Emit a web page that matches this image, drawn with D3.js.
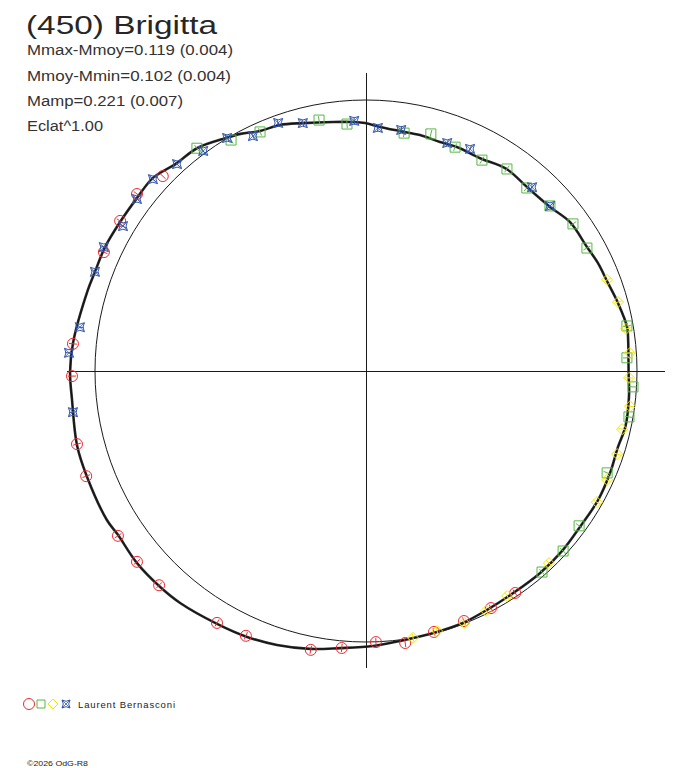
<!DOCTYPE html>
<html><head><meta charset="utf-8">
<script src="https://cdn.jsdelivr.net/npm/d3@7"></script>
<style>html,body{margin:0;padding:0;background:#fff;}</style>
</head><body>
<svg id="chart" width="688" height="768"></svg>
<script>
// ---- data (phase angle in degrees, relative flux; 1 = mean) ----
const title = "(450) Brigitta";
const infoLines = ["Mmax-Mmoy=0.119 (0.004)", "Mmoy-Mmin=0.102 (0.004)", "Mamp=0.221 (0.007)", "Eclat^1.00"];
const observer = "Laurent Bernasconi";
const copyright = "\u00A92026 OdG-R8";

const curvePhase = [6.7,9.6,15.1,20.0,25.0,29.3,36.1,41.7,48.8,55.2,61.8,67.9,72.1,77.1,81.9,86.7,90.2,93.0,97.5,104.3,109.3,113.8,117.9,121.0,127.2,132.3,137.8,142.9,148.8,154.6,159.9,163.8,174.5,180.2,185.6,194.4,200.8,209.9,213.5,220.0,226.4,231.3,239.5,245.9,252.0,258.6,264.6,271.5,277.2,285.2,291.0,296.9,303.5,310.7,317.7,323.9,330.9,337.3,343.2,347.9,354.4,359.8];
const curveFlux  = [0.974,0.977,0.963,0.950,0.944,0.935,0.932,0.910,0.902,0.908,0.891,0.892,0.888,0.893,0.894,0.902,0.915,0.920,0.927,0.944,0.962,0.968,0.990,1.003,1.032,1.037,1.061,1.059,1.061,1.066,1.065,1.069,1.086,1.092,1.090,1.101,1.101,1.103,1.097,1.103,1.101,1.097,1.083,1.075,1.063,1.046,1.027,1.015,1.004,0.998,0.996,0.988,0.983,0.984,0.982,0.977,0.980,0.976,0.971,0.979,0.975,0.969];

const redPhase = [136.2,142.3,148.6,155.6,174.7,181.0,194.2,200.6,213.6,219.8,226.0,239.4,245.6,258.8,265.0,272.1,278.2,284.6,291.4,297.8,303.9];
const redFlux  = [1.039,1.068,1.063,1.062,1.086,1.085,1.100,1.103,1.099,1.100,1.099,1.080,1.073,1.049,1.026,1.001,1.014,0.995,0.991,0.989,0.987];

const greenPhase = [127.2,120.3,113.9,100.6,94.4,80.9,74.7,68.3,61.2,55.1,48.7,41.9,35.4,29.1,9.8,2.9,356.6,350.1,337.1,324.0,317.6,311.2];
const greenFlux  = [1.032,0.987,0.965,0.942,0.914,0.889,0.907,0.889,0.888,0.909,0.899,0.912,0.937,0.933,0.977,0.964,0.987,0.985,0.966,0.972,0.985,0.986];

const yellowPhase = [20.7,15.3,9.2,3.9,358.5,352.4,347.2,341.7,335.7,330.4,313.6,302.1,296.6,291.3,285.3,280.0];
const yellowFlux  = [0.951,0.964,0.972,0.976,0.971,0.983,0.969,0.976,0.976,0.980,0.979,0.980,0.990,0.998,0.995,1.000];

const bluePhase = [120.8,126.5,132.4,138.0,143.1,149.2,154.7,159.9,171.3,176.5,188.0,115.7,109.5,104.3,92.7,87.2,81.7,70.4,64.9,47.9,41.9];
const blueFlux  = [1.001,1.010,1.034,1.058,1.057,1.044,1.070,1.065,1.068,1.098,1.092,0.962,0.971,0.944,0.924,0.898,0.899,0.893,0.905,0.914,0.912];

// ---- layout ----
const W = 688, H = 768;
const cx = 366, cy = 371, R = 271;
const svg = d3.select("#chart");
svg.append("rect").attr("width", W).attr("height", H).attr("fill", "#fff");

const rScale = d3.scaleLinear().domain([0, 1]).range([0, R]);
const aScale = d3.scaleLinear().domain([0, 360]).range([0, 2 * Math.PI]);
const px = (ph, f) => cx + rScale(f) * Math.cos(aScale(ph));
const py = (ph, f) => cy - rScale(f) * Math.sin(aScale(ph));

const g = svg.append("g");
g.append("line").attr("x1", 67).attr("x2", 665).attr("y1", cy).attr("y2", cy)
  .attr("stroke", "#1a1a1a").attr("stroke-width", 1).attr("shape-rendering", "crispEdges");
g.append("line").attr("x1", cx).attr("x2", cx).attr("y1", 73).attr("y2", 668)
  .attr("stroke", "#1a1a1a").attr("stroke-width", 1).attr("shape-rendering", "crispEdges");

// mean circle
g.append("circle").attr("cx", cx).attr("cy", cy).attr("r", rScale(1))
  .attr("fill", "none").attr("stroke", "#1a1a1a").attr("stroke-width", 1);

// light curve
const curvePts = curvePhase.map((p, i) => [px(p, curveFlux[i]), py(p, curveFlux[i])]);
const line = d3.line().curve(d3.curveCatmullRomClosed.alpha(0.5));
g.append("path").attr("d", line(curvePts)).attr("fill", "none")
  .attr("stroke", "#2b2b2b").attr("stroke-width", 2.6).attr("stroke-linejoin", "round");
g.append("path").attr("d", line(curvePts)).attr("fill", "none")
  .attr("stroke", "#111").attr("stroke-width", 1);

// marker shapes
const shapes = {
  circle: s => `M${s},0A${s},${s} 0 1,1 ${-s},0A${s},${s} 0 1,1 ${s},0Z`,
  square: s => `M${-s},${-s}H${s}V${s}H${-s}Z`,
  diamond: s => `M0,${-s}L${s},0L0,${s}L${-s},0Z`,
  star: s => `M${-s},${-s}Q0,${-s*0.35} ${s},${-s}Q${s*0.35},0 ${s},${s}Q0,${s*0.35} ${-s},${s}Q${-s*0.35},0 ${-s},${-s}Z`
};
const series = [
  {phase: redPhase, flux: redFlux, color: "#ec2a2f", shape: "circle", size: 5.5},
  {phase: greenPhase, flux: greenFlux, color: "#58b646", shape: "square", size: 5},
  {phase: yellowPhase, flux: yellowFlux, color: "#f2e600", shape: "diamond", size: 5.5},
  {phase: bluePhase, flux: blueFlux, color: "#3556a8", shape: "star", size: 4.5}
];

series.forEach(s => {
  const data = s.phase.map((p, i) => ({p, f: s.flux[i]}));
  const mg = g.append("g");
  const m = mg.selectAll("g").data(data).join("g")
    .attr("transform", d => `translate(${px(d.p, d.f)},${py(d.p, d.f)})`);
  m.append("path").attr("d", shapes[s.shape](s.size)).attr("fill", "none")
    .attr("stroke", s.color).attr("stroke-width", 1);
  if (s.shape === "star") {
    m.append("path").attr("d", `M${-s.size},${-s.size}L${s.size},${s.size}M${s.size},${-s.size}L${-s.size},${s.size}`)
      .attr("stroke", s.color).attr("stroke-width", 0.8).attr("fill", "none");
  }
  // radial error tick
  m.append("line")
    .attr("x1", d => -4 * Math.cos(aScale(d.p))).attr("y1", d => 4 * Math.sin(aScale(d.p)))
    .attr("x2", d => 4 * Math.cos(aScale(d.p))).attr("y2", d => -4 * Math.sin(aScale(d.p)))
    .attr("stroke", s.color).attr("stroke-width", 1);
});

// texts
const font = "'Liberation Sans', Arial, sans-serif";
svg.append("text").attr("x", 26).attr("y", 33.5).attr("font-family", font).attr("font-size", 26)
  .attr("fill", "#262626").attr("textLength", 191).attr("lengthAdjust", "spacingAndGlyphs").text(title);
const infoLen = [206, 204, 156, 76];
const infoY = [55, 80.5, 106, 131];
infoLines.forEach((t, i) => {
  svg.append("text").attr("x", 27).attr("y", infoY[i]).attr("font-family", font).attr("font-size", 14)
    .attr("fill", "#333").attr("textLength", infoLen[i]).attr("lengthAdjust", "spacingAndGlyphs").text(t);
});

// legend
const lg = svg.append("g");
const legX = [29, 41, 53, 66];
series.forEach((s, i) => {
  const gg = lg.append("g").attr("transform", `translate(${legX[i]},704)`);
  gg.append("path").attr("d", shapes[s.shape](s.shape === "circle" ? 5.5 : s.shape === "diamond" ? 5 : 4))
    .attr("fill", "none").attr("stroke", s.color).attr("stroke-width", 1);
  if (s.shape === "star") {
    gg.append("path").attr("d", "M-4,-4L4,4M4,-4L-4,4").attr("stroke", s.color).attr("stroke-width", 0.8);
  }
});
lg.append("text").attr("x", 78).attr("y", 708).attr("font-family", font).attr("font-size", 9.5)
  .attr("fill", "#222").attr("textLength", 97).attr("lengthAdjust", "spacing").text(observer);
svg.append("text").attr("x", 27).attr("y", 766).attr("font-family", font).attr("font-size", 8)
  .attr("fill", "#222").attr("textLength", 61).attr("lengthAdjust", "spacingAndGlyphs").text(copyright);
</script>
</body></html>
